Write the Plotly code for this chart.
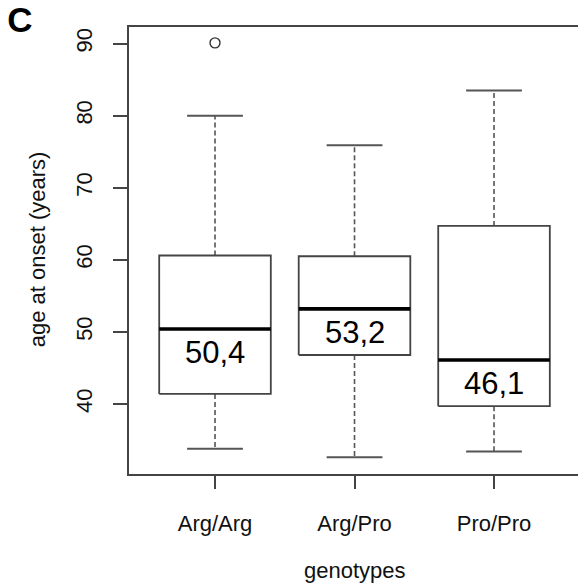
import plotly.graph_objects as go

# ---- data ----
categories = ["Arg/Arg", "Arg/Pro", "Pro/Pro"]
lower_whisker = [33.8, 32.6, 33.4]
q1 = [41.4, 46.8, 39.7]
median = [50.4, 53.2, 46.1]
q3 = [60.6, 60.5, 64.7]
upper_whisker = [80.0, 75.9, 83.5]
outliers = [[90.1], [], []]
median_labels = ["50,4", "53,2", "46,1"]
y_ticks = [40, 50, 60, 70, 80, 90]

BOX_HALF = 0.4
CAP_HALF = 0.2
FONT = "Liberation Sans, Arial, sans-serif"
FRAME = "#444444"

fig = go.Figure()
positions = list(range(1, len(categories) + 1))

for i, c in enumerate(positions):
    # dashed whiskers
    for a, b in ((q3[i], upper_whisker[i]), (q1[i], lower_whisker[i])):
        fig.add_trace(go.Scatter(x=[c, c], y=[a, b], mode="lines",
                                 line=dict(color="#555555", width=1.6, dash="5px,3px"),
                                 hoverinfo="skip", showlegend=False))
    # caps
    for v in (upper_whisker[i], lower_whisker[i]):
        fig.add_trace(go.Scatter(x=[c - CAP_HALF, c + CAP_HALF], y=[v, v], mode="lines",
                                 line=dict(color="#555555", width=2),
                                 hoverinfo="skip", showlegend=False))
    # box
    fig.add_trace(go.Scatter(
        x=[c - BOX_HALF, c + BOX_HALF, c + BOX_HALF, c - BOX_HALF, c - BOX_HALF],
        y=[q1[i], q1[i], q3[i], q3[i], q1[i]], mode="lines",
        line=dict(color="#444444", width=1.8), fill="toself", fillcolor="white",
        hoverinfo="skip", showlegend=False))
    # median
    fig.add_trace(go.Scatter(x=[c - BOX_HALF, c + BOX_HALF], y=[median[i], median[i]],
                             mode="lines", line=dict(color="#000000", width=3.6),
                             hoverinfo="skip", showlegend=False))
    # outliers
    if outliers[i]:
        fig.add_trace(go.Scatter(x=[c] * len(outliers[i]), y=outliers[i], mode="markers",
                                 marker=dict(symbol="circle-open", size=10,
                                             color="#333333", line=dict(width=1.4)),
                                 hoverinfo="skip", showlegend=False))
    # median label
    fig.add_annotation(x=c, y=median[i], xref="x", yref="y", text=median_labels[i],
                       showarrow=False, yanchor="middle", yshift=-23.5,
                       font=dict(family=FONT, size=31, color="#000000"))

fig.add_annotation(x=2, y=-0.2148, xref="x", yref="paper", text="genotypes",
                   showarrow=False, xanchor="center", yanchor="middle",
                   font=dict(family=FONT, size=22, color="#111111"))
fig.add_annotation(x=-0.2035, y=0.502, xref="paper", yref="paper",
                   text="age at onset (years)", textangle=-90,
                   showarrow=False, xanchor="center", yanchor="middle",
                   font=dict(family=FONT, size=22, color="#111111"))

fig.update_layout(
    width=578, height=585,
    margin=dict(l=129, r=0, t=27, b=111),
    paper_bgcolor="white", plot_bgcolor="white",
    title=dict(text="<b>C</b>", xref="container", yref="container",
               x=20 / 578, y=1 - 20 / 585, xanchor="center", yanchor="middle",
               font=dict(family=FONT, size=35, color="#000000")),
    xaxis=dict(range=[0.3835, 3.602], tickmode="array", tickvals=positions,
               ticktext=categories, showgrid=False, zeroline=False,
               showline=True, linecolor=FRAME, linewidth=1.8, mirror=True,
               ticks="outside", ticklen=13, tickwidth=1.8, tickcolor=FRAME,
               ticklabelstandoff=16,
               tickfont=dict(family=FONT, size=22, color="#111111")),
    yaxis=dict(range=[30.29, 92.3], tickmode="array", tickvals=y_ticks,
               showgrid=False, zeroline=False,
               showline=True, linecolor=FRAME, linewidth=1.8,
               ticks="outside", ticklen=14, tickwidth=1.8, tickcolor=FRAME,
               tickangle=-90, ticklabelstandoff=12,
               tickfont=dict(family=FONT, size=22, color="#111111")),
)

fig.write_html("out.html")
